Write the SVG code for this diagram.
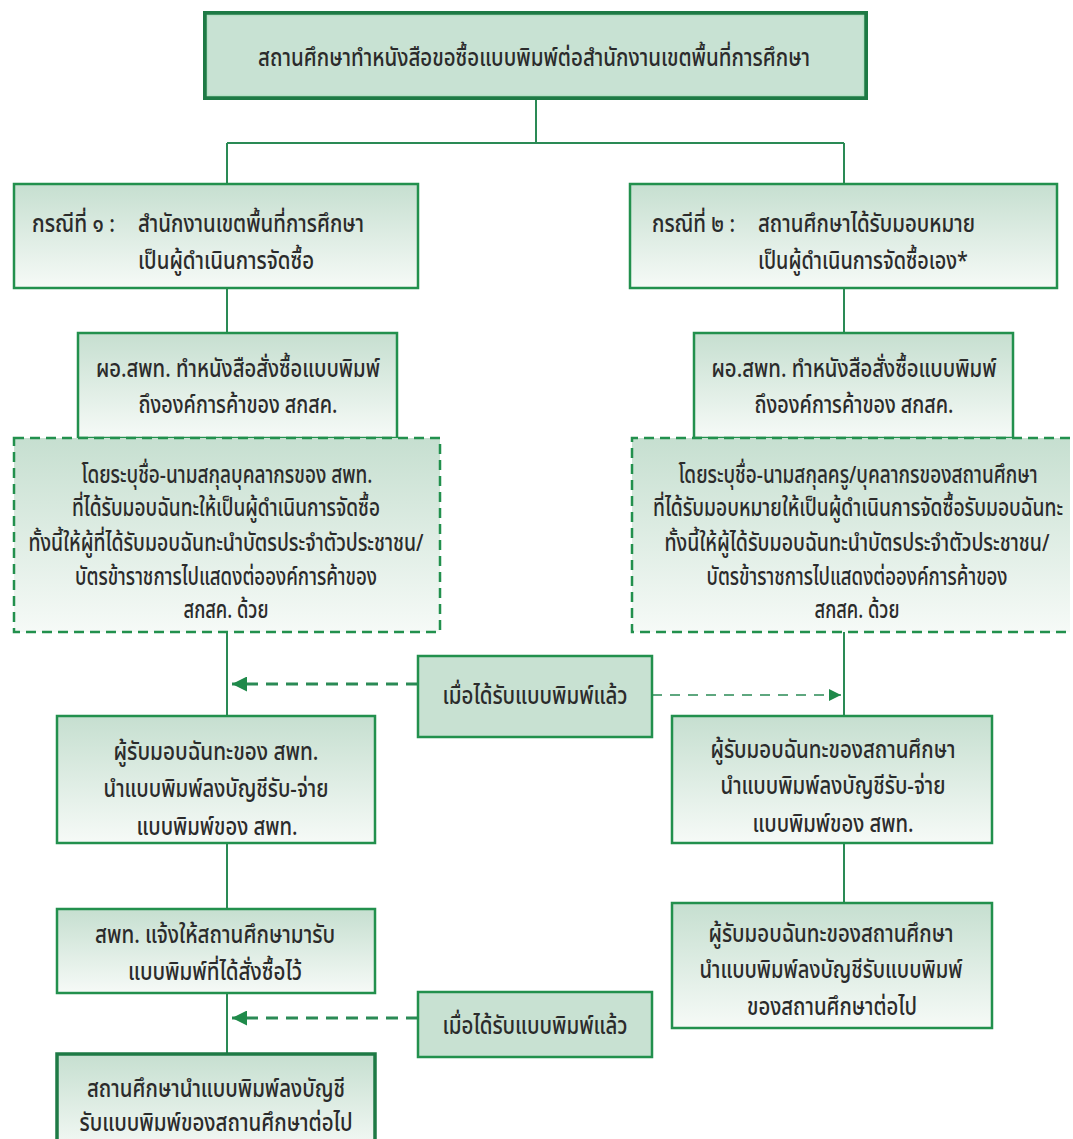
<svg xmlns="http://www.w3.org/2000/svg" width="1073" height="1139" viewBox="0 0 1073 1139">
<style>
text{font-family:"Noto Sans Thai","Loma","Garuda","Norasi","Noto Sans","DejaVu Sans",sans-serif;font-size:24px;font-weight:500;fill:#2b2b2b;text-anchor:middle}
.l{text-anchor:start}
.box{fill:url(#g);stroke:#22904d;stroke-width:2.5}
.flat{fill:#c8e1d2;stroke:#22904d;stroke-width:2.5}
.dash{fill:url(#g);stroke:#22904d;stroke-width:2.5;stroke-dasharray:10 6}
.dl{fill:none;stroke:#22904d;stroke-width:2.5;stroke-dasharray:10 6}
.ln{stroke:#2a8a55;stroke-width:2;fill:none}
</style>
<defs>
<linearGradient id="g" x1="0" y1="0" x2="0" y2="1">
<stop offset="0" stop-color="#c6dfd0"/>
<stop offset="1" stop-color="#f6faf7"/>
</linearGradient>
<marker id="ah" viewBox="0 0 10 10" refX="10" refY="5" markerWidth="5" markerHeight="5" orient="auto"><path d="M0,0L10,5L0,10z" fill="#1f8a4a"/></marker>
<marker id="ah2" viewBox="0 0 10 10" refX="10" refY="5" markerWidth="8" markerHeight="8" orient="auto"><path d="M0,0L10,5L0,10z" fill="#1f8a4a"/></marker>
</defs>
<rect width="1073" height="1139" fill="#fff"/>
<g id="connectors">
<path class="ln" d="M536,98V143M227,143H844M227,143V184M844,143V184M227,288V333M844,288V333M227,632V716M844,632V716M227,843V909M844,843V903M227,993V1054"/>
<path d="M418,684H232" stroke="#2a8a55" stroke-width="3" stroke-dasharray="12 8" marker-end="url(#ah)"/>
<path d="M652,695H841" stroke="#2a8a55" stroke-width="1.5" stroke-dasharray="10 8" marker-end="url(#ah2)"/>
<path d="M418,1018H232" stroke="#2a8a55" stroke-width="3" stroke-dasharray="12 8" marker-end="url(#ah)"/>
</g>
<g id="n1">
<rect x="205" y="13" width="661" height="85" fill="#c8e2d3" stroke="#1e7a45" stroke-width="4"/>
<rect x="207.5" y="15.5" width="656" height="80" fill="none" stroke="#b7e0c6" stroke-width="1.5"/>
<text x="534" y="66" textLength="552" lengthAdjust="spacingAndGlyphs">สถานศึกษาทำหนังสือขอซื้อแบบพิมพ์ต่อสำนักงานเขตพื้นที่การศึกษา</text>
</g>
<g id="n2">
<rect class="box" x="14" y="184" width="404" height="104"/>
<text class="l" x="32" y="232" textLength="83" lengthAdjust="spacingAndGlyphs">กรณีที่ ๑ :</text>
<text class="l" x="138" y="232" textLength="226" lengthAdjust="spacingAndGlyphs">สำนักงานเขตพื้นที่การศึกษา</text>
<text class="l" x="138" y="269" textLength="176" lengthAdjust="spacingAndGlyphs">เป็นผู้ดำเนินการจัดซื้อ</text>
</g>
<g id="n3">
<rect class="box" x="630" y="184" width="427" height="104"/>
<text class="l" x="652" y="232" textLength="83" lengthAdjust="spacingAndGlyphs">กรณีที่ ๒ :</text>
<text class="l" x="758" y="232" textLength="217" lengthAdjust="spacingAndGlyphs">สถานศึกษาได้รับมอบหมาย</text>
<text class="l" x="758" y="269" textLength="210" lengthAdjust="spacingAndGlyphs">เป็นผู้ดำเนินการจัดซื้อเอง*</text>
</g>
<g id="n4">
<rect class="box" x="78" y="333" width="319" height="105"/>
<text x="238" y="377" textLength="284" lengthAdjust="spacingAndGlyphs">ผอ.สพท. ทำหนังสือสั่งซื้อแบบพิมพ์</text>
<text x="238" y="413" textLength="199" lengthAdjust="spacingAndGlyphs">ถึงองค์การค้าของ สกสค.</text>
</g>
<g id="n5">
<rect class="box" x="694" y="333" width="319" height="105"/>
<text x="854" y="377" textLength="285" lengthAdjust="spacingAndGlyphs">ผอ.สพท. ทำหนังสือสั่งซื้อแบบพิมพ์</text>
<text x="854" y="413" textLength="199" lengthAdjust="spacingAndGlyphs">ถึงองค์การค้าของ สกสค.</text>
</g>
<g id="n6">
<rect class="dash" x="14" y="438" width="426" height="194"/>
<text x="227" y="483" textLength="291" lengthAdjust="spacingAndGlyphs">โดยระบุชื่อ-นามสกุลบุคลากรของ สพท.</text>
<text x="226" y="516" textLength="308" lengthAdjust="spacingAndGlyphs">ที่ได้รับมอบฉันทะให้เป็นผู้ดำเนินการจัดซื้อ</text>
<text x="226" y="551" textLength="395" lengthAdjust="spacingAndGlyphs">ทั้งนี้ให้ผู้ที่ได้รับมอบฉันทะนำบัตรประจำตัวประชาชน/</text>
<text x="226" y="585" textLength="302" lengthAdjust="spacingAndGlyphs">บัตรข้าราชการไปแสดงต่อองค์การค้าของ</text>
<text x="226" y="618" textLength="85" lengthAdjust="spacingAndGlyphs">สกสค. ด้วย</text>
</g>
<g id="n7">
<rect x="632" y="438" width="438" height="194" fill="url(#g)"/>
<path class="dl" d="M1070,438H632V632H1070"/>
<text x="858" y="483" textLength="359" lengthAdjust="spacingAndGlyphs">โดยระบุชื่อ-นามสกุลครู/บุคลากรของสถานศึกษา</text>
<text x="858" y="516" textLength="410" lengthAdjust="spacingAndGlyphs">ที่ได้รับมอบหมายให้เป็นผู้ดำเนินการจัดซื้อรับมอบฉันทะ</text>
<text x="857" y="551" textLength="385" lengthAdjust="spacingAndGlyphs">ทั้งนี้ให้ผู้ได้รับมอบฉันทะนำบัตรประจำตัวประชาชน/</text>
<text x="857" y="585" textLength="301" lengthAdjust="spacingAndGlyphs">บัตรข้าราชการไปแสดงต่อองค์การค้าของ</text>
<text x="857" y="618" textLength="85" lengthAdjust="spacingAndGlyphs">สกสค. ด้วย</text>
</g>
<g id="n8">
<rect class="flat" x="418" y="656" width="234" height="81"/>
<text x="535" y="704" textLength="185" lengthAdjust="spacingAndGlyphs">เมื่อได้รับแบบพิมพ์แล้ว</text>
</g>
<g id="n9">
<rect class="box" x="57" y="716" width="318" height="127"/>
<text x="216" y="760" textLength="205" lengthAdjust="spacingAndGlyphs">ผู้รับมอบฉันทะของ สพท.</text>
<text x="216" y="797" textLength="225" lengthAdjust="spacingAndGlyphs">นำแบบพิมพ์ลงบัญชีรับ-จ่าย</text>
<text x="217" y="835" textLength="161" lengthAdjust="spacingAndGlyphs">แบบพิมพ์ของ สพท.</text>
</g>
<g id="n10">
<rect class="box" x="672" y="716" width="320" height="127"/>
<text x="833" y="758" textLength="245" lengthAdjust="spacingAndGlyphs">ผู้รับมอบฉันทะของสถานศึกษา</text>
<text x="833" y="794" textLength="225" lengthAdjust="spacingAndGlyphs">นำแบบพิมพ์ลงบัญชีรับ-จ่าย</text>
<text x="833" y="832" textLength="161" lengthAdjust="spacingAndGlyphs">แบบพิมพ์ของ สพท.</text>
</g>
<g id="n11">
<rect class="box" x="57" y="909" width="318" height="84"/>
<text x="215" y="943" textLength="240" lengthAdjust="spacingAndGlyphs">สพท. แจ้งให้สถานศึกษามารับ</text>
<text x="215" y="980" textLength="174" lengthAdjust="spacingAndGlyphs">แบบพิมพ์ที่ได้สั่งซื้อไว้</text>
</g>
<g id="n12">
<rect class="box" x="672" y="903" width="320" height="125"/>
<text x="831" y="942" textLength="245" lengthAdjust="spacingAndGlyphs">ผู้รับมอบฉันทะของสถานศึกษา</text>
<text x="831" y="978" textLength="263" lengthAdjust="spacingAndGlyphs">นำแบบพิมพ์ลงบัญชีรับแบบพิมพ์</text>
<text x="832" y="1015" textLength="170" lengthAdjust="spacingAndGlyphs">ของสถานศึกษาต่อไป</text>
</g>
<g id="n13">
<rect class="flat" x="418" y="992" width="234" height="65"/>
<text x="535" y="1034" textLength="185" lengthAdjust="spacingAndGlyphs">เมื่อได้รับแบบพิมพ์แล้ว</text>
</g>
<g id="n14">
<rect x="57" y="1054" width="318" height="100" fill="url(#g)" stroke="#1e7a45" stroke-width="3.5"/>
<text x="216" y="1097" textLength="258" lengthAdjust="spacingAndGlyphs">สถานศึกษานำแบบพิมพ์ลงบัญชี</text>
<text x="216" y="1131" textLength="273" lengthAdjust="spacingAndGlyphs">รับแบบพิมพ์ของสถานศึกษาต่อไป</text>
</g>
</svg>
